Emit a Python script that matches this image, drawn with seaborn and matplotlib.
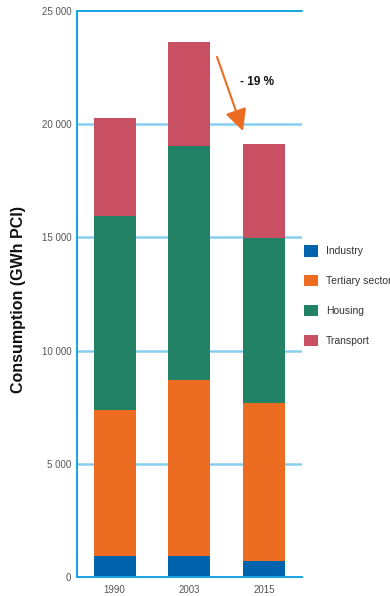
import matplotlib
matplotlib.use("Agg")
import matplotlib.pyplot as plt
import numpy as np
import pandas as pd
import seaborn as sns
from matplotlib.patches import Patch

# Energy consumption by sector (GWh PCI)
years = ["1990", "2003", "2015"]
sectors = ["Industry", "Tertiary sector", "Housing", "Transport"]
industry = [940, 940, 710]
tertiary = [6440, 7775, 6975]
housing = [8565, 10320, 7300]
transport = [4330, 4595, 4140]
colors = ["#0063ae", "#ec6c21", "#228265", "#c95063"]
y_ticks = [0, 5000, 10000, 15000, 20000, 25000]
y_tick_labels = ["0", "5 000", "10 000", "15 000", "20 000", "25 000"]

layers = [industry, tertiary, housing, transport]
cum = np.cumsum(np.array(layers, dtype=float), axis=0)

sns.set_theme(style="white")
plt.rcParams["font.family"] = ["Liberation Sans", "DejaVu Sans"]

fig = plt.figure(figsize=(3.9, 5.96), dpi=100)
ax = fig.add_axes([77 / 390, 19 / 596, 225 / 390, 566 / 596])

grid_c = "#86cff0"
axis_c = "#14a5e0"
for v in y_ticks[1:-1]:
    ax.axhline(v, color=grid_c, lw=1.8, zorder=0)
ax.axhline(y_ticks[-1], color=axis_c, lw=1.4, zorder=0, clip_on=False)

# Stacked bars: draw cumulative totals from the top layer downwards
for i in range(len(sectors) - 1, -1, -1):
    df = pd.DataFrame({"year": years, "value": cum[i]})
    sns.barplot(data=df, x="year", y="value", color=colors[i], width=0.56,
                saturation=1, linewidth=0, edgecolor="none", ax=ax, zorder=2)

ax.set_xlim(-0.5, 2.5)
ax.set_ylim(0, 25000)
ax.set_yticks(y_ticks)
ax.set_yticklabels(y_tick_labels)
ax.set_xlabel("")
ax.set_ylabel("Consumption (GWh PCI)", fontsize=11.5, fontweight="bold",
              color="#111111")
ax.yaxis.set_label_coords(-51 / 225, 0.491)

for side in ["top", "right"]:
    ax.spines[side].set_visible(False)
for side in ["left", "bottom"]:
    ax.spines[side].set_visible(True)
    ax.spines[side].set_color(axis_c)
    ax.spines[side].set_linewidth(1.4)

ax.tick_params(axis="y", length=0, labelsize=7, labelcolor="#555555", pad=4)
ax.tick_params(axis="x", which="major", length=0, labelsize=7,
               labelcolor="#555555", pad=6)
ax.set_xticks([0.5, 1.5, 2.5], minor=True)
ax.tick_params(axis="x", which="minor", direction="in", length=10,
               width=1.2, color=axis_c)

# Change between 2003 and 2015
change = (cum[-1][2] - cum[-1][1]) / cum[-1][1] * 100
ax.annotate("", xy=(1.713, 19700), xytext=(1.367, 22970),
            arrowprops=dict(arrowstyle="-|>,head_length=1.1,head_width=0.55",
                            color="#ec6c21", lw=1.5, shrinkA=0, shrinkB=0),
            zorder=5)
ax.text(1.9, 21860, f"- {abs(round(change)):.0f} %", fontsize=8.5,
        fontweight="bold", color="#111111", ha="center", va="center")

handles = [Patch(facecolor=c, edgecolor="none") for c in colors]
fig.legend(handles, sectors, loc="upper left",
           bbox_to_anchor=(300 / 390, 1 - 241 / 596), frameon=False,
           fontsize=7.5, labelcolor="#333333", handlelength=1.3,
           handleheight=1.3, handletextpad=0.8, labelspacing=1.78,
           borderaxespad=0)

fig.savefig("out.png", dpi=100, facecolor="white")
